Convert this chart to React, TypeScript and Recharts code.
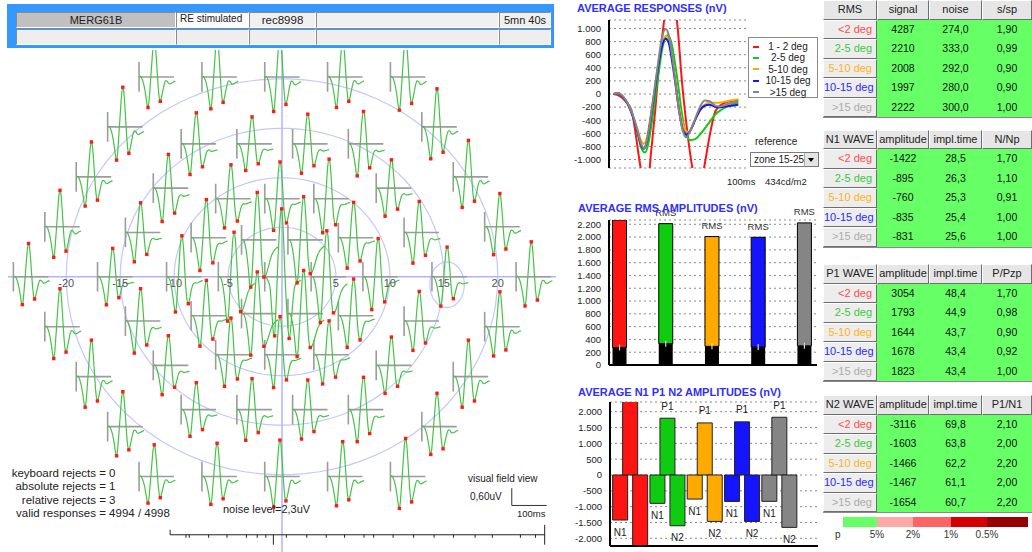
import React from 'react';
import {
  ComposedChart, LineChart, BarChart, Line, Bar, XAxis, YAxis, CartesianGrid,
  ReferenceLine, Scatter, Cell, LabelList,
} from 'recharts';

// ---- zones ----
const zoneNames = ['<2 deg', '2-5 deg', '5-10 deg', '10-15 deg', '>15 deg'];
const legendNames = ['1 - 2 deg', '2-5 deg', '5-10 deg', '10-15 deg', '>15 deg'];
const zoneColors = ['#ff1414', '#10cc10', '#ffaa00', '#1414ff', '#858585'];
const zoneText = ['#ff4d4d', '#3cc83c', '#ffb31a', '#2a2aff', '#ababab'];

// ---- table values ----
const rmsSignal = [4287, 2210, 2008, 1997, 2222];
const rmsNoise = [274.0, 333.0, 292.0, 280.0, 300.0];
const rmsSsp = [1.90, 0.99, 0.90, 0.90, 1.00];
const n1Amp = [-1422, -895, -760, -835, -831];
const n1Time = [28.5, 26.3, 25.3, 25.4, 25.6];
const n1Ratio = [1.70, 1.10, 0.91, 1.00, 1.00];
const p1Amp = [3054, 1793, 1644, 1678, 1823];
const p1Time = [48.4, 44.9, 43.7, 43.4, 43.4];
const p1Ratio = [1.70, 0.98, 0.90, 0.92, 1.00];
const n2Amp = [-3116, -1603, -1466, -1467, -1654];
const n2Time = [69.8, 63.8, 62.2, 61.1, 60.7];
const n2Ratio = [2.10, 2.00, 2.20, 2.00, 2.20];

// ---- average responses [ms, nV] ----
const respRed = [[0, 0], [5, -30], [10, -110], [15, -250], [18, -550], [21.5, -1000], [25, -1350], [28.5, -1422], [31, -950], [35, -200], [38, 450], [41.7, 1050], [45, 1500], [48.4, 1632], [51, 1400], [53.5, 1000], [57, 200], [61, -500], [65, -1050], [69.8, -1484], [73, -1350], [76.7, -1000], [80, -650], [85, -260], [90, -160], [95, -120], [100, -100], [104, -90]];
const respGreen = [[0, 0], [4, 5], [8, -40], [12, -150], [16, -330], [20, -590], [23, -820], [26.3, -895], [29, -760], [32, -420], [35, -20], [38, 380], [41, 720], [44.9, 898], [48, 800], [51, 500], [54, 120], [57, -300], [60, -580], [63.8, -705], [68, -690], [72, -620], [76, -530], [80, -430], [85, -310], [90, -240], [95, -190], [100, -155], [104, -135]];
const respYellow = [[0, 0], [4, 10], [8, -45], [12, -150], [16, -320], [20, -540], [23, -710], [25.3, -760], [28, -650], [31, -330], [34, 30], [37, 420], [40, 740], [43.7, 884], [46, 820], [49, 560], [52, 160], [55, -230], [58, -470], [62.2, -582], [65, -520], [69, -360], [73, -220], [77, -150], [81, -130], [85, -135], [89, -130], [93, -115], [97, -100], [101, -88], [104, -80]];
const respBlue = [[0, 0], [4, 10], [8, -50], [12, -160], [16, -340], [20, -580], [23, -780], [25.4, -835], [28, -720], [31, -380], [34, 0], [37, 380], [40, 700], [43.4, 843], [46, 780], [49, 480], [52, 100], [55, -300], [58, -560], [61.1, -624], [64, -560], [68, -400], [72, -250], [76, -180], [80, -165], [84, -190], [88, -205], [92, -195], [96, -185], [100, -175], [104, -165]];
const respGray = [[0, 0], [4, 15], [8, -40], [12, -150], [16, -320], [20, -560], [23, -760], [25.6, -831], [28, -700], [31, -350], [34, 50], [37, 450], [40, 820], [43.4, 992], [46, 900], [49, 560], [52, 120], [55, -300], [58, -580], [60.7, -662], [64, -560], [68, -380], [72, -200], [76, -100], [80, -110], [84, -170], [88, -190], [92, -175], [96, -150], [100, -130], [104, -115]];
const responses = [respRed, respGreen, respYellow, respBlue, respGray];

// ---- field view ----
const ringRadius = [0, 4.3, 9.1, 15.5, 23.3];
const traceGain = [
  1.3,
  1.6, 1.5, 1.65, 1.55, 1.45, 1.5,
  1.35, 1.25, 1.4, 1.3, 1.2, 1.35, 1.45, 1.25, 1.3, 1.35, 1.2, 1.3,
  1.1, 1.15, 1.05, 1.2, 1.1, 1.0, 1.15, 1.25, 1.1, 1.05, 1.2, 1.1, 1.0, 1.15, 1.1, 1.2, 1.05, 1.1,
  1.1, 1.05, 1.15, 1.2, 1.25, 1.15, 1.3, 1.2, 1.15, 1.25, 1.1, 1.15, 1.05, 1.2, 1.15, 1.1, 1.0, 1.05, 1.15, 1.1, 1.2, 1.05, 1.15, 1.1,
];
const fieldTicks = [-20, -15, -10, -5, 5, 10, 15, 20];
const ringDeg = [5, 10, 15, 20];
const blindSpot = { x: 15.3, y: -0.8, rx: 1.6, ry: 2.3 };
const rulerTicks = [-8.9, -8.6, -6.8, -5.1, -3.3, -2.3, -1.5, 0.4, 2.3, 4.1, 5.8, 7.6, 8.5, 10.3, 12.2, 14.1, 15.9, 17.9, 19.5, 22.1, 23.5];

const rejectLabels = ['keyboard rejects', 'absolute rejects', 'relative rejects', 'valid responses'];
const rejectValues = ['0', '1', '3', '4994 / 4998'];
const headerRow = ['MERG61B', 'RE stimulated', 'rec8998', '', '5mn 40s'];
const pLabels = ['5%', '2%', '1%', '0.5%'];
const pColors = ['#66ff66', '#ffa8a8', '#ff6464', '#d60000', '#960000'];

const thous = (v: number) => {
  const s = String(Math.abs(Math.round(v))).replace(/\B(?=(\d{3})+(?!\d))/g, '.');
  return (v < 0 ? '-' : '') + s;
};
const dec = (v: number, d: number) => v.toFixed(d).replace('.', ',');
const FONT = '"Liberation Sans", Arial, sans-serif';

// ---------- field chart data ----------
const TW = 3.24 / 100; // deg per ms
const VG = 0.00323; // deg per nV
function buildField() {
  const centers: { x: number; y: number; ring: number }[] = [{ x: 0, y: 0, ring: 0 }];
  for (let n = 1; n < ringRadius.length; n++) {
    const R = ringRadius[n];
    for (let k = 0; k < 6; k++) {
      const a0 = (k * Math.PI) / 3, a1 = ((k + 1) * Math.PI) / 3;
      const x0 = R * Math.cos(a0), y0 = R * Math.sin(a0);
      const x1 = R * Math.cos(a1), y1 = R * Math.sin(a1);
      for (let j = 0; j < n; j++) {
        centers.push({ x: x0 + ((x1 - x0) * j) / n, y: y0 + ((y1 - y0) * j) / n, ring: n });
      }
    }
  }
  const wave: any[] = [], frame: any[] = [], dots: any[] = [];
  centers.forEach((c, i) => {
    const g = traceGain[i] * VG;
    const left = c.x - 1.6;
    const z = c.ring;
    frame.push({ x: left, y: c.y + 1.5 }, { x: left, y: c.y - 1.5 }, { x: left, y: null },
      { x: left, y: c.y }, { x: left + 100 * TW, y: c.y }, { x: left, y: null });
    responses[z].forEach(([t, v]) => wave.push({ x: left + t * TW, y: c.y + v * g }));
    wave.push({ x: left, y: null });
    const n1 = n1Amp[z], p1 = n1 + p1Amp[z], n2 = p1 + n2Amp[z];
    dots.push({ x: left + n1Time[z] * TW, y: c.y + n1 * g });
    dots.push({ x: left + p1Time[z] * TW, y: c.y + p1 * g });
    dots.push({ x: left + n2Time[z] * TW, y: c.y + n2 * g });
  });
  const rings: any[] = [];
  const ellipse = (cx: number, cy: number, rx: number, ry: number) => {
    for (let a = 0; a <= 360; a += 4) {
      const r = (a * Math.PI) / 180;
      rings.push({ x: cx + rx * Math.cos(r), y: cy + ry * Math.sin(r) });
    }
    rings.push({ x: cx, y: null });
  };
  ringDeg.forEach((r) => ellipse(0, 0, r, r));
  ellipse(blindSpot.x, blindSpot.y, blindSpot.rx, blindSpot.ry);

  const ry = -26.06;
  const ruler: any[] = [
    { x: -10.37, y: ry + 0.5 }, { x: -10.37, y: ry }, { x: 24.35, y: ry }, { x: 0, y: null },
    { x: 24.35, y: ry + 1.0 }, { x: 24.35, y: ry - 1.0 }, { x: 0, y: null },
    { x: -0.8, y: ry }, { x: -0.8, y: ry - 1.0 }, { x: 0, y: null },
  ];
  rulerTicks.forEach((t) => ruler.push({ x: t, y: ry }, { x: t, y: ry - 0.3 }, { x: 0, y: null }));
  const sx = 21.3, sy = -23.1;
  const scaleBar = [{ x: sx, y: sy + 600 * VG * 0.9 }, { x: sx, y: sy }, { x: sx + 100 * TW, y: sy }];
  return { wave, frame, dots, rings, ruler, scaleBar };
}
const field = buildField();
const tickPts = fieldTicks.map((v) => ({ x: v, y: 0, label: String(v) }));

function FieldChart() {
  return (
    <div style={{ position: 'absolute', left: 0, top: 0 }}>
      <ComposedChart width={560} height={552} margin={{ top: 50, right: 4, bottom: 0, left: 8 }}>
        <XAxis type="number" dataKey="x" domain={[-25.4, 25.4]} allowDataOverflow hide />
        <YAxis type="number" dataKey="y" domain={[-27.8, 22.9]} allowDataOverflow hide />
        <Line data={field.rings} dataKey="y" type="linear" stroke="#c4c6ff" strokeWidth={1.2} dot={false} activeDot={false} isAnimationActive={false} />
        <ReferenceLine x={0} stroke="#b0b4ff" strokeWidth={1.5} />
        <ReferenceLine y={0} stroke="#b0b4ff" strokeWidth={1.5} />
        <Line data={field.frame} dataKey="y" type="linear" stroke="#9c9c9c" strokeWidth={1.6} dot={false} activeDot={false} isAnimationActive={false} />
        <Line data={field.wave} dataKey="y" type="monotone" stroke="#44c444" strokeWidth={1.2} dot={false} activeDot={false} isAnimationActive={false} />
        <Scatter data={field.dots} isAnimationActive={false}
          shape={(p: any) => <rect x={p.cx - 1.7} y={p.cy - 1.7} width={3.4} height={3.4} fill="#ff1a1a" />} />
        <Scatter data={tickPts} isAnimationActive={false}
          shape={(p: any) => (
            <text x={p.cx} y={p.cy + 10} textAnchor="middle" fontSize={11} fill="#555">{p.payload.label}</text>
          )} />
        <Line data={field.ruler} dataKey="y" type="linear" stroke="#222" strokeWidth={1} dot={false} activeDot={false} isAnimationActive={false} />
        <Line data={field.scaleBar} dataKey="y" type="linear" stroke="#333" strokeWidth={1} dot={false} activeDot={false} isAnimationActive={false} />
      </ComposedChart>
    </div>
  );
}

function Header() {
  const cols = [16, 176, 249, 316, 499, 551];
  const cell = (l: number, t: number, w: number, h: number, bg: string, content: React.ReactNode, extra: React.CSSProperties = {}) => (
    <div style={{
      position: 'absolute', left: l, top: t, width: w, height: h, boxSizing: 'border-box', background: bg,
      borderStyle: 'solid', borderWidth: 1, borderColor: '#8a8a8a #fff #fff #8a8a8a',
      display: 'flex', alignItems: 'center', justifyContent: 'center', fontSize: 11, color: '#222', ...extra,
    }}>{content}</div>
  );
  return (
    <div>
      <div style={{ position: 'absolute', left: 7, top: 4, width: 547, height: 44, background: '#3399ff' }} />
      {headerRow.map((txt, i) => cell(cols[i], 12, cols[i + 1] - cols[i], 16, i === 0 ? '#c0c0c0' : i === 1 ? '#fbfbfb' : '#f0f0f0', txt,
        i === 1 ? { alignItems: 'flex-start', justifyContent: 'flex-start', paddingLeft: 3, fontSize: 10 } : i === 2 ? { fontSize: 11.5 } : {}))}
      {headerRow.map((_, i) => cell(cols[i], 29, cols[i + 1] - cols[i], 16, '#eeeeee', ''))}
    </div>
  );
}

function FieldTexts() {
  const abs = (l: number, t: number, extra: React.CSSProperties = {}) => ({ position: 'absolute' as const, left: l, top: t, whiteSpace: 'nowrap' as const, ...extra });
  return (
    <div>
      {rejectLabels.map((lab, i) => (
        <div key={lab} style={abs(0, 467 + i * 13.4, { fontSize: 11.5, lineHeight: '13px', display: 'flex' })}>
          <span style={{ width: 96, textAlign: 'right', display: 'inline-block' }}>{lab}</span>
          <span>&nbsp;= {rejectValues[i]}</span>
        </div>
      ))}
      <div style={abs(223, 503, { fontSize: 11, lineHeight: '13px' })}>noise level=2,3uV</div>
      <div style={abs(468, 473, { fontSize: 10, lineHeight: '12px' })}>visual field view</div>
      <div style={abs(470, 491, { fontSize: 10, lineHeight: '12px' })}>0,60uV</div>
      <div style={abs(517, 508, { fontSize: 9.5, lineHeight: '12px' })}>100ms</div>
    </div>
  );
}

const toPts = (arr: number[][]) => arr.map(([t, v]) => ({ t, v }));
const titleStyle = (l: number, t: number): React.CSSProperties => ({
  position: 'absolute', left: l, top: t, fontSize: 11, fontWeight: 'bold', color: '#2f2fff', whiteSpace: 'nowrap', lineHeight: '13px',
});
const yTick = { fontSize: 9.5, fill: '#222' };

function ResponsesChart() {
  const respTicks = [-1000, -800, -600, -400, -200, 0, 200, 400, 600, 800, 1000];
  return (
    <div>
      <div style={titleStyle(577, 2)}>AVERAGE RESPONSES (nV)</div>
      <div style={{ position: 'absolute', left: 560, top: 0 }}>
        <LineChart width={200} height={175} margin={{ top: 20, right: 13, bottom: 7, left: 4 }}>
          <CartesianGrid vertical={false} stroke="#8a8a8a" strokeDasharray="2 3" />
          <XAxis type="number" dataKey="t" domain={[-3.75, 111.25]} allowDataOverflow hide />
          <YAxis width={45} domain={[-1130, 1130]} ticks={respTicks} interval={0} allowDataOverflow
            tick={yTick} tickLine={false} axisLine={{ stroke: '#000', strokeWidth: 2 }} tickFormatter={thous} />
          {responses.map((r, i) => (
            <Line key={i} data={toPts(r)} dataKey="v" type="monotone" stroke={zoneColors[i]} strokeWidth={2}
              dot={false} activeDot={false} isAnimationActive={false} />
          ))}
        </LineChart>
      </div>
      <div style={{ position: 'absolute', left: 748, top: 37, width: 70, height: 61, boxSizing: 'border-box', border: '1px solid #8a8a8a', background: '#fff' }}>
        {legendNames.map((n, i) => (
          <div key={n} style={{ position: 'absolute', left: 0, top: 3 + i * 11.4, width: 68, height: 11, fontSize: 10, lineHeight: '11px' }}>
            <div style={{ position: 'absolute', left: 4, top: 4.5, width: 6, height: 2, background: zoneColors[i] }} />
            <div style={{ position: 'absolute', left: 14, width: 50, textAlign: 'center', color: '#222' }}>{n}</div>
          </div>
        ))}
      </div>
      <div style={{ position: 'absolute', left: 755, top: 136, fontSize: 10, lineHeight: '12px' }}>reference</div>
      <div style={{ position: 'absolute', left: 750, top: 152, width: 69, height: 15, boxSizing: 'border-box', border: '1px solid #7a7a7a', background: '#fff', fontSize: 10, lineHeight: '13px', paddingLeft: 3 }}>
        zone 15-25
        <div style={{ position: 'absolute', right: 0, top: 0, width: 13, height: 13, background: '#e4e4e4', borderLeft: '1px solid #aaa' }}>
          <div style={{ position: 'absolute', left: 3, top: 5, width: 0, height: 0, borderLeft: '3.5px solid transparent', borderRight: '3.5px solid transparent', borderTop: '4px solid #000' }} />
        </div>
      </div>
      <div style={{ position: 'absolute', left: 727, top: 176, fontSize: 9.5, lineHeight: '12px' }}>100ms</div>
      <div style={{ position: 'absolute', left: 765, top: 176, fontSize: 9.5, lineHeight: '12px' }}>434cd/m2</div>
    </div>
  );
}

const vbOf = (p: any) => (p.viewBox && p.viewBox.width !== undefined ? p.viewBox : p);

function RmsChart() {
  const maxV = 2267;
  const data = rmsSignal.map((s, i) => ({ x: i, noise: rmsNoise[i], rest: s - rmsNoise[i], signal: s, label: s < maxV ? 'RMS' : '' }));
  const ticks = [0, 200, 400, 600, 800, 1000, 1200, 1400, 1600, 1800, 2000, 2200];
  return (
    <div>
      <div style={{ position: 'absolute', left: 560, top: 190 }}>
        <BarChart width={270} height={180} data={data} margin={{ top: 30, right: 13, bottom: 5, left: 4 }}>
          <CartesianGrid vertical={false} stroke="#8a8a8a" strokeDasharray="2 3" />
          <XAxis type="number" dataKey="x" domain={[-0.23, 4.27]} hide />
          <YAxis width={45} domain={[0, maxV]} ticks={ticks} interval={0} allowDataOverflow
            tick={yTick} tickLine={false} axisLine={{ stroke: '#000', strokeWidth: 2 }} tickFormatter={thous} />
          <Bar dataKey="noise" stackId="a" fill="#000" barSize={14} isAnimationActive={false}>
            <LabelList dataKey="noise" content={(p: any) => {
              const vb = vbOf(p);
              const top = Math.min(vb.y, vb.y + vb.height);
              const cx = vb.x + vb.width / 2;
              return <line x1={cx} x2={cx} y1={top - 3} y2={top + 3} stroke="#d8d8d8" strokeWidth={1.2} />;
            }} />
          </Bar>
          <Bar dataKey="rest" stackId="a" barSize={14} stroke="#000" strokeWidth={1} isAnimationActive={false}>
            {data.map((_, i) => <Cell key={i} fill={zoneColors[i]} />)}
            <LabelList dataKey="label" content={(p: any) => {
              const vb = vbOf(p);
              if (!p.value) return null;
              const top = Math.min(vb.y, vb.y + vb.height);
              return <text x={vb.x + vb.width / 2} y={top - 11} textAnchor="middle" dominantBaseline="central" fontSize={9.5} fill="#333">{p.value}</text>;
            }} />
          </Bar>
          <ReferenceLine y={0} stroke="#000" strokeWidth={2} />
        </BarChart>
      </div>
      <div style={titleStyle(578, 202)}>AVERAGE RMS AMPLITUDES (nV)</div>
    </div>
  );
}

function WaveChart() {
  const lo = -2242, hi = 2305;
  const data = zoneNames.map((_, i) => ({ x: i, n1: n1Amp[i], p1: p1Amp[i], n2: n2Amp[i] }));
  const ticks = [-2000, -1500, -1000, -500, 0, 500, 1000, 1500, 2000];
  const lab = (txt: string, down: boolean) => (p: any) => {
    const vb = vbOf(p);
    const v = Number(p.value);
    if (v > hi || v < lo) return null;
    const top = Math.min(vb.y, vb.y + vb.height), bot = Math.max(vb.y, vb.y + vb.height);
    return (
      <text x={vb.x + vb.width / 2} y={down ? bot + 12 : top - 12} textAnchor="middle" dominantBaseline="central" fontSize={10} fill="#222">{txt}</text>
    );
  };
  return (
    <div>
      <div style={titleStyle(578, 386)}>AVERAGE N1 P1 N2 AMPLITUDES (nV)</div>
      <div style={{ position: 'absolute', left: 560, top: 380 }}>
        <BarChart width={270} height={172} data={data} barGap={-5} margin={{ top: 22, right: 12, bottom: 6, left: 4 }}>
          <CartesianGrid vertical={false} stroke="#8a8a8a" strokeDasharray="2 3" />
          <XAxis type="number" dataKey="x" domain={[-0.544, 5.032]} hide />
          <YAxis width={46} domain={[lo, hi]} ticks={ticks} interval={0} allowDataOverflow
            tick={yTick} tickLine={false} axisLine={{ stroke: '#000', strokeWidth: 2 }} tickFormatter={thous} />
          {(['n1', 'p1', 'n2'] as const).map((k) => (
            <Bar key={k} dataKey={k} barSize={15} stroke="#222" strokeWidth={1} isAnimationActive={false}>
              {data.map((_, i) => <Cell key={i} fill={zoneColors[i]} />)}
              <LabelList dataKey={k} content={lab(k.toUpperCase(), k !== 'p1')} />
            </Bar>
          ))}
          <ReferenceLine y={-2240} stroke="#000" strokeWidth={2} />
        </BarChart>
      </div>
    </div>
  );
}

function ZoneTable({ top, head, cols }: { top: number; head: string[]; cols: string[][] }) {
  const colX = [823, 877, 929, 982, 1032];
  const H = 19.5;
  const raised: React.CSSProperties = { borderStyle: 'solid', borderWidth: 1, borderColor: '#fff #6e6e6e #6e6e6e #fff', boxSizing: 'border-box' };
  return (
    <div>
      {head.map((h, c) => (
        <div key={'h' + c} style={{ ...raised, position: 'absolute', left: colX[c], top, width: colX[c + 1] - colX[c], height: H, background: '#e6e6e6', fontSize: 11, lineHeight: '17px', textAlign: 'center', color: '#222', whiteSpace: 'nowrap', overflow: 'hidden' }}>{h}</div>
      ))}
      {zoneNames.map((z, r) => (
        <React.Fragment key={z}>
          <div style={{ ...raised, position: 'absolute', left: colX[0], top: top + H * (r + 1), width: colX[1] - colX[0], height: H, background: '#ededed', fontSize: 11, lineHeight: '17px', textAlign: 'right', paddingRight: 4, color: zoneText[r], whiteSpace: 'nowrap' }}>{z}</div>
          {cols.map((col, c) => (
            <div key={c} style={{ position: 'absolute', left: colX[c + 1], top: top + H * (r + 1), width: colX[c + 2] - colX[c + 1], height: H, background: '#66ff66', fontSize: 10.5, lineHeight: `${H}px`, textAlign: 'center', color: '#111' }}>{col[r]}</div>
          ))}
        </React.Fragment>
      ))}
      <div style={{ position: 'absolute', left: colX[0], top: top + H * 6, width: colX[4] - colX[0], height: 1, background: '#8a8a8a' }} />
    </div>
  );
}

function PLegend() {
  const edges = [843, 877, 913, 951, 987, 1028];
  return (
    <div>
      {pColors.map((c, i) => (
        <div key={c} style={{ position: 'absolute', left: edges[i], top: 517, width: edges[i + 1] - edges[i], height: 10, background: c }} />
      ))}
      <div style={{ position: 'absolute', left: 835, top: 529, fontSize: 10, lineHeight: '12px', color: '#333' }}>p</div>
      {pLabels.map((l, i) => (
        <div key={l} style={{ position: 'absolute', left: edges[i + 1] - 20, width: 40, top: 529, fontSize: 10, lineHeight: '12px', textAlign: 'center', color: '#333' }}>{l}</div>
      ))}
    </div>
  );
}

export default function App() {
  return (
    <div style={{ position: 'absolute', left: 0, top: 0, width: 1032, height: 552, overflow: 'hidden', background: '#fff', fontFamily: FONT, color: '#222' }}>
      <FieldChart />
      <Header />
      <FieldTexts />
      <ResponsesChart />
      <RmsChart />
      <WaveChart />
      <ZoneTable top={0} head={['RMS', 'signal', 'noise', 's/sp']}
        cols={[rmsSignal.map(String), rmsNoise.map((v) => dec(v, 1)), rmsSsp.map((v) => dec(v, 2))]} />
      <ZoneTable top={129.5} head={['N1 WAVE', 'amplitude', 'impl.time', 'N/Np']}
        cols={[n1Amp.map(String), n1Time.map((v) => dec(v, 1)), n1Ratio.map((v) => dec(v, 2))]} />
      <ZoneTable top={264} head={['P1 WAVE', 'amplitude', 'impl.time', 'P/Pzp']}
        cols={[p1Amp.map(String), p1Time.map((v) => dec(v, 1)), p1Ratio.map((v) => dec(v, 2))]} />
      <ZoneTable top={395} head={['N2 WAVE', 'amplitude', 'impl.time', 'P1/N1']}
        cols={[n2Amp.map(String), n2Time.map((v) => dec(v, 1)), n2Ratio.map((v) => dec(v, 2))]} />
      <PLegend />
    </div>
  );
}
